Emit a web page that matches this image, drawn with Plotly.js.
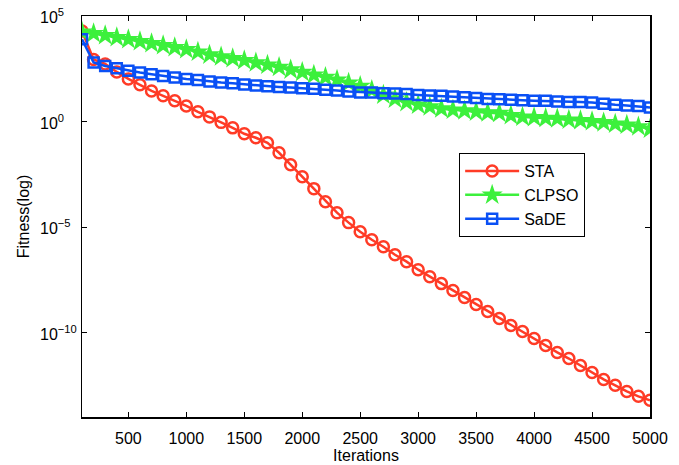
<!DOCTYPE html>
<html>
<head>
<meta charset="utf-8">
<script src="https://cdn.plot.ly/plotly-3.0.1.min.js"></script>
<style>html,body{margin:0;padding:0;background:#fff;}#chart{width:679px;height:465px;}</style>
</head>
<body>
<div id="chart"></div>
<script>
// Iterations (x)
var iterations = [100,200,300,400,500,600,700,800,900,1000,1100,1200,1300,1400,1500,1600,1700,1800,1900,2000,2100,2200,2300,2400,2500,2600,2700,2800,2900,3000,3100,3200,3300,3400,3500,3600,3700,3800,3900,4000,4100,4200,4300,4400,4500,4600,4700,4800,4900,5000];
// log10 of fitness for each algorithm
var staLog = [4.29,2.94,2.73,2.35,2.02,1.74,1.45,1.22,0.98,0.74,0.46,0.22,-0.04,-0.30,-0.58,-0.77,-1.01,-1.48,-2.05,-2.62,-3.18,-3.80,-4.32,-4.79,-5.22,-5.60,-5.93,-6.31,-6.64,-7.02,-7.35,-7.68,-8.01,-8.34,-8.67,-9.00,-9.33,-9.66,-9.95,-10.28,-10.61,-10.94,-11.23,-11.56,-11.89,-12.22,-12.50,-12.79,-13.02,-13.21];
var clpsoLog = [4.24,4.17,4.08,3.98,3.89,3.79,3.70,3.60,3.51,3.42,3.30,3.16,3.07,2.99,2.89,2.79,2.68,2.57,2.45,2.34,2.21,2.10,1.97,1.83,1.67,1.48,1.26,1.07,0.91,0.79,0.70,0.61,0.55,0.51,0.46,0.42,0.39,0.29,0.22,0.19,0.16,0.13,0.08,0.05,0.00,-0.05,-0.11,-0.16,-0.24,-0.35];
var sadeLog = [3.90,2.80,2.63,2.52,2.41,2.32,2.24,2.16,2.09,2.02,1.97,1.90,1.85,1.81,1.76,1.71,1.67,1.64,1.61,1.58,1.55,1.51,1.47,1.42,1.38,1.37,1.34,1.33,1.30,1.26,1.23,1.22,1.18,1.15,1.11,1.07,1.06,1.03,1.01,0.99,0.98,0.95,0.93,0.92,0.90,0.84,0.79,0.76,0.73,0.67];
// Axis ticks
var xTicks = [500,1000,1500,2000,2500,3000,3500,4000,4500,5000];
var yTickExp = [-10,-5,0,5];
var yTickText = ['10<sup>\u221210</sup>','10<sup>\u22125</sup>','10<sup>0</sup>','10<sup>5</sup>'];

function pow10(arr){ return arr.map(function(v){ return Math.pow(10, v); }); }

var FONT = 'Liberation Sans, Arial, Helvetica, sans-serif';

var traces = [
  {x: iterations, y: pow10(staLog), name: 'STA', type: 'scatter', mode: 'lines+markers',
   line: {color: '#ff3b26', width: 2.5},
   marker: {symbol: 'circle-open', size: 11, color: '#ff3b26', line: {width: 2.5, color: '#ff3b26'}}},
  {x: iterations, y: pow10(clpsoLog), name: 'CLPSO', type: 'scatter', mode: 'lines+markers',
   line: {color: '#3cf03c', width: 2.5},
   marker: {symbol: 'star', size: 16, color: '#3cf03c', line: {width: 0}}},
  {x: iterations, y: pow10(sadeLog), name: 'SaDE', type: 'scatter', mode: 'lines+markers',
   line: {color: '#0a50f5', width: 2.5},
   marker: {symbol: 'square-open', size: 10, color: '#0a50f5', line: {width: 2.5, color: '#0a50f5'}}}
];

var annotations = yTickExp.map(function(e, i){
  return {xref: 'paper', yref: 'y', x: -0.078, y: e, xanchor: 'left', yanchor: 'middle',
          text: yTickText[i], showarrow: false, font: {family: FONT, size: 16, color: '#000'}};
});

var layout = {
  width: 679, height: 465,
  margin: {l: 82, r: 29, t: 16, b: 48},
  paper_bgcolor: '#fff', plot_bgcolor: '#fff',
  font: {family: FONT, size: 16, color: '#000'},
  showlegend: true,
  legend: {x: 0.664, y: 0.658, xanchor: 'left', yanchor: 'top', bgcolor: '#fff',
           bordercolor: '#000', borderwidth: 1, font: {family: FONT, size: 16, color: '#000'},
           itemwidth: 54, tracegroupgap: 0},
  xaxis: {range: [100, 5000], tickmode: 'array', tickvals: xTicks,
          ticks: 'inside', ticklen: 5, tickcolor: '#000', showline: true, linecolor: '#000', linewidth: 1.5,
          mirror: 'ticks', showgrid: false, zeroline: false, ticklabelstandoff: 6,
          tickfont: {family: FONT, size: 16, color: '#000'},
          title: {text: 'Iterations', font: {family: FONT, size: 16, color: '#000'}, standoff: 0}},
  yaxis: {type: 'log', range: [-14, 5], tickmode: 'array', tickvals: pow10(yTickExp), showticklabels: false,
          ticks: 'inside', ticklen: 5, tickcolor: '#000', showline: true, linecolor: '#000', linewidth: 1.5,
          mirror: 'ticks', showgrid: false, zeroline: false,
          title: {text: 'Fitness(log)', font: {family: FONT, size: 16, color: '#000'}, standoff: 47}},
  annotations: annotations
};

Plotly.newPlot('chart', traces, layout, {displayModeBar: false, staticPlot: true});
</script>
</body>
</html>
